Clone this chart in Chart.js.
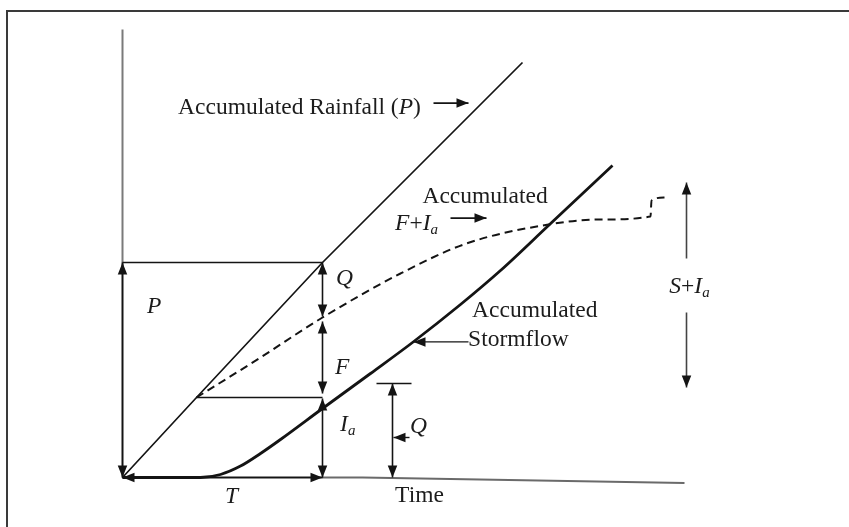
<!DOCTYPE html>
<html>
<head>
<meta charset="utf-8">
<script src="https://cdn.jsdelivr.net/npm/chart.js@4.4.1/dist/chart.umd.min.js"></script>
<style>
  html, body { margin: 0; padding: 0; background: #fff; overflow: hidden; }
  #wrap { position: relative; width: 849px; height: 527px; }
  #frame { position: absolute; left: 6px; top: 10px; width: 900px; height: 600px;
           border: 2px solid #3a3a3a; box-sizing: border-box; }
  #c { position: absolute; left: 0; top: 0; }
</style>
</head>
<body>
<div id="wrap">
  <div id="frame"></div>
  <canvas id="c" width="849" height="527"></canvas>
</div>
<script>
// Accumulated rainfall P against time
const rainfallTime  = [0, 3.7, 10, 20];
const rainfallDepth = [0, 4.0, 10.75, 20.75];

// Accumulated stormflow Q (zero until the initial abstraction is satisfied)
const stormflowTime  = [0, 3.9, 4.9, 5.9, 6.9, 7.9, 10, 12.4, 14.5, 16.9, 18.9, 21.3, 22.9, 24.5];
const stormflowDepth = [0, 0, 0.15, 0.57, 1.2, 1.9, 3.45, 5.2, 6.75, 8.65, 10.35, 12.6, 14.1, 15.6];

// Accumulated infiltration plus initial abstraction, F + Ia
const lossTime  = [3.7, 6.9, 10, 13.9, 17.2, 21.3, 23.9, 26.4, 26.45, 27.1];
const lossDepth = [4.0, 6.0, 8.0, 10.2, 11.7, 12.65, 12.9, 13.05, 13.85, 14.0];

// Axes of the sketch
const timeAxisTime  = [0, 12, 28.1];
const timeAxisDepth = [0, 0, -0.27];
const depthAxisTop  = 22.4;

const readTime = 10;            // T
const readP = 10.75;            // P at T
const readLoss = 8.0;           // F + Ia at T
const initialAbstraction = 4.0; // Ia
const laterTime = 13.5;         // time of the second Q marker
const laterQ = 4.7;             // Q marked at that time
const storageTop = 14.75;       // S + Ia span (upper end)
const storageBottom = 4.5;      // S + Ia span (lower end)

const toPts = (xs, ys) => xs.map((x, i) => ({ x, y: ys[i] }));

const SERIF = '"Liberation Serif", "Times New Roman", serif';
const INK = '#141414';
const TEXT = '#1c1c1c';

function head(ctx, x, y, ang, len = 12, wid = 9.5) {
  ctx.save();
  ctx.translate(x, y);
  ctx.rotate(ang);
  ctx.beginPath();
  ctx.moveTo(0, 0);
  ctx.lineTo(-len, -wid / 2);
  ctx.lineTo(-len, wid / 2);
  ctx.closePath();
  ctx.fill();
  ctx.restore();
}

function arrow(ctx, x1, y1, x2, y2, startHead, endHead, lw = 1.6) {
  ctx.lineWidth = lw;
  ctx.beginPath();
  ctx.moveTo(x1, y1);
  ctx.lineTo(x2, y2);
  ctx.stroke();
  const a = Math.atan2(y2 - y1, x2 - x1);
  if (endHead) head(ctx, x2, y2, a);
  if (startHead) head(ctx, x1, y1, a + Math.PI);
}

function fontFor(p) {
  const size = p.sub ? 15 : 23.5;
  return (p.it ? 'italic ' : '') + size + 'px ' + SERIF;
}

function richWidth(ctx, parts) {
  let w = 0;
  for (const p of parts) { ctx.font = fontFor(p); w += ctx.measureText(p.t).width; }
  return w;
}

function rich(ctx, parts, x, y, center) {
  let cx = center ? x - richWidth(ctx, parts) / 2 : x;
  for (const p of parts) {
    ctx.font = fontFor(p);
    ctx.fillText(p.t, cx, y + (p.sub ? 6 : 0));
    cx += ctx.measureText(p.t).width;
  }
}

const sketchMarks = {
  id: 'sketchMarks',
  afterDatasetsDraw(chart) {
    const ctx = chart.ctx;
    const X = v => chart.scales.x.getPixelForValue(v);
    const Y = v => chart.scales.y.getPixelForValue(v);
    ctx.save();
    ctx.strokeStyle = INK;
    ctx.fillStyle = INK;
    ctx.lineCap = 'butt';

    // guide lines at P and at Ia
    ctx.lineWidth = 1.6;
    ctx.beginPath();
    ctx.moveTo(X(0), Y(readP)); ctx.lineTo(X(readTime), Y(readP));
    ctx.moveTo(X(rainfallTime[1]), Y(initialAbstraction)); ctx.lineTo(X(readTime), Y(initialAbstraction));
    ctx.stroke();

    // P span on the depth axis
    arrow(ctx, X(0), Y(0), X(0), Y(readP), true, true);
    // Q, F and Ia spans at time T
    arrow(ctx, X(readTime), Y(readLoss + 0.05), X(readTime), Y(readP), true, true);
    arrow(ctx, X(readTime), Y(initialAbstraction + 0.2), X(readTime), Y(readLoss - 0.2), true, true);
    arrow(ctx, X(readTime), Y(0), X(readTime), Y(initialAbstraction - 0.05), true, true);
    // T span on the time axis
    arrow(ctx, X(0), Y(0), X(readTime), Y(0), true, true);

    // later Q marker
    ctx.lineWidth = 1.6;
    ctx.beginPath();
    ctx.moveTo(X(laterTime - 0.8), Y(laterQ)); ctx.lineTo(X(laterTime + 0.95), Y(laterQ));
    ctx.stroke();
    arrow(ctx, X(laterTime), Y(0), X(laterTime), Y(laterQ), true, true);
    arrow(ctx, X(laterTime + 0.85), Y(2.0), X(laterTime + 0.05), Y(2.0), false, true, 1.4);

    // S + Ia span
    ctx.strokeStyle = '#444';
    arrow(ctx, X(28.2), Y(10.95), X(28.2), Y(storageTop), false, true, 1.6);
    arrow(ctx, X(28.2), Y(8.25), X(28.2), Y(storageBottom), false, true, 1.6);
    ctx.strokeStyle = INK;

    // pointer arrows beside the labels
    arrow(ctx, X(15.55), Y(18.72), X(17.3), Y(18.72), false, true, 1.6);
    arrow(ctx, X(16.4), Y(12.97), X(18.2), Y(12.97), false, true, 1.6);
    arrow(ctx, X(17.3), Y(6.78), X(14.55), Y(6.78), false, true, 1.4);

    // labels
    ctx.fillStyle = TEXT;
    ctx.textBaseline = 'middle';
    ctx.textAlign = 'left';
    rich(ctx, [{ t: 'Accumulated Rainfall (' }, { t: 'P', it: true }, { t: ')' }], X(2.78), Y(18.48));
    rich(ctx, [{ t: 'Accumulated' }], X(18.13), Y(14.03), true);
    rich(ctx, [{ t: 'F', it: true }, { t: '+' }, { t: 'I', it: true }, { t: 'a', it: true, sub: true }], X(13.63), Y(12.68));
    rich(ctx, [{ t: 'Accumulated' }], X(17.48), Y(8.33));
    rich(ctx, [{ t: 'Stormflow' }], X(17.28), Y(6.88));
    rich(ctx, [{ t: 'Q', it: true }], X(10.68), Y(9.93));
    rich(ctx, [{ t: 'F', it: true }], X(10.63), Y(5.48));
    rich(ctx, [{ t: 'I', it: true }, { t: 'a', it: true, sub: true }], X(10.88), Y(2.63));
    rich(ctx, [{ t: 'Q', it: true }], X(14.38), Y(2.53));
    rich(ctx, [{ t: 'P', it: true }], X(1.23), Y(8.53));
    rich(ctx, [{ t: 'T', it: true }], X(5.13), Y(-0.98));
    rich(ctx, [{ t: 'Time' }], X(13.63), Y(-0.93));
    rich(ctx, [{ t: 'S', it: true }, { t: '+' }, { t: 'I', it: true }, { t: 'a', it: true, sub: true }], X(28.35), Y(9.53), true);
    ctx.restore();
  }
};

new Chart(document.getElementById('c'), {
  type: 'scatter',
  data: {
    datasets: [
      { label: 'Accumulated Rainfall', data: toPts(rainfallTime, rainfallDepth),
        showLine: true, borderColor: INK, borderWidth: 1.7, pointRadius: 0, tension: 0 },
      { label: 'Accumulated Stormflow', data: toPts(stormflowTime, stormflowDepth),
        showLine: true, borderColor: INK, borderWidth: 2.8, pointRadius: 0,
        cubicInterpolationMode: 'monotone' },
      { label: 'Accumulated F + Ia', data: toPts(lossTime, lossDepth),
        showLine: true, borderColor: INK, borderWidth: 2, borderDash: [8, 5], pointRadius: 0,
        cubicInterpolationMode: 'monotone' },
      { label: 'Time axis', data: toPts(timeAxisTime, timeAxisDepth),
        showLine: true, borderColor: '#6a6a6a', borderWidth: 2, pointRadius: 0, tension: 0 },
      { label: 'Depth axis', data: [{ x: 0, y: 0 }, { x: 0, y: depthAxisTop }],
        showLine: true, borderColor: '#7a7a7a', borderWidth: 2, pointRadius: 0, tension: 0 }
    ]
  },
  options: {
    responsive: false,
    animation: false,
    events: [],
    layout: { padding: 0 },
    plugins: { legend: { display: false }, tooltip: { enabled: false } },
    scales: {
      x: { type: 'linear', display: false, min: -6.125, max: 36.325 },
      y: { type: 'linear', display: false, min: -2.475, max: 23.875 }
    }
  },
  plugins: [sketchMarks]
});
</script>
</body>
</html>
